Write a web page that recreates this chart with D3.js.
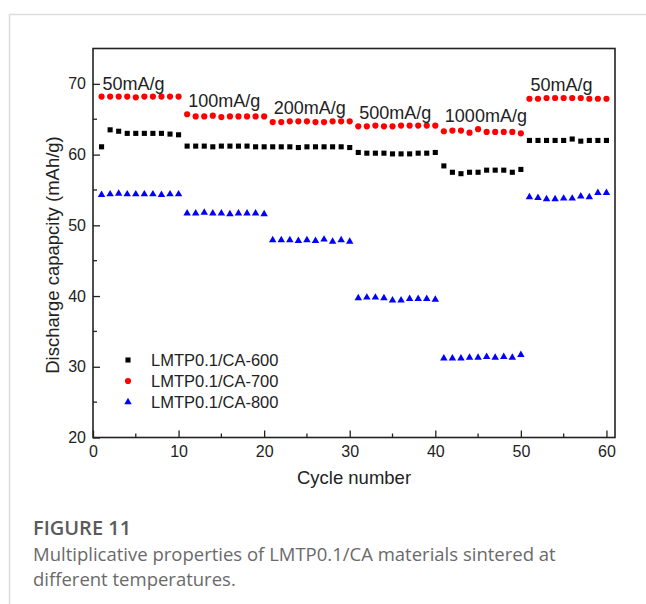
<!DOCTYPE html>
<html>
<head>
<meta charset="utf-8">
<script src="https://cdn.jsdelivr.net/npm/d3@7"></script>
<style>
  body { margin: 0; background: #fff; }
  svg { display: block; }
</style>
</head>
<body>
<svg id="chart" width="646" height="604"></svg>
<script>
// cycles 1..60
const cycles = d3.range(1, 61);

const ca600 = [
    61.1, 63.5, 63.3, 63.0, 63.0, 63.0, 63.0, 63.0, 62.9, 62.8,
    61.2, 61.2, 61.2, 61.1, 61.2, 61.2, 61.2, 61.2, 61.1, 61.1,
    61.1, 61.1, 61.1, 61.0, 61.1, 61.1, 61.1, 61.1, 61.1, 61.0,
    60.3, 60.2, 60.2, 60.2, 60.1, 60.1, 60.1, 60.2, 60.2, 60.3,
    58.4, 57.5, 57.3, 57.5, 57.5, 57.8, 57.8, 57.8, 57.5, 57.9,
    62.0, 62.0, 62.0, 62.0, 62.0, 62.2, 61.9, 62.0, 62.0, 62.0
];
const ca700 = [
    68.2, 68.2, 68.2, 68.2, 68.1, 68.2, 68.2, 68.2, 68.2, 68.2,
    65.7, 65.4, 65.4, 65.5, 65.3, 65.4, 65.4, 65.4, 65.4, 65.4,
    64.6, 64.6, 64.7, 64.7, 64.7, 64.6, 64.6, 64.7, 64.7, 64.7,
    64.0, 64.0, 64.1, 64.0, 64.0, 64.1, 64.1, 64.1, 64.1, 64.1,
    63.3, 63.4, 63.4, 63.1, 63.6, 63.2, 63.2, 63.2, 63.2, 63.0,
    67.9, 67.9, 68.0, 68.0, 68.0, 68.0, 68.0, 67.9, 67.9, 67.9
];
const ca800 = [
    54.3, 54.4, 54.5, 54.4, 54.4, 54.4, 54.4, 54.3, 54.4, 54.4,
    51.7, 51.7, 51.8, 51.7, 51.7, 51.6, 51.7, 51.7, 51.7, 51.6,
    47.9, 47.9, 47.9, 47.8, 47.9, 47.8, 48.0, 47.7, 47.9, 47.7,
    39.7, 39.8, 39.8, 39.7, 39.4, 39.4, 39.6, 39.6, 39.6, 39.5,
    31.2, 31.2, 31.2, 31.3, 31.3, 31.4, 31.3, 31.4, 31.3, 31.7,
    54.0, 53.9, 53.7, 53.7, 53.8, 53.8, 54.1, 54.0, 54.6, 54.6
];

const seriesNames = ['LMTP0.1/CA-600', 'LMTP0.1/CA-700', 'LMTP0.1/CA-800'];
const rateLabels = ['50mA/g', '100mA/g', '200mA/g', '500mA/g', '1000mA/g', '50mA/g'];
const xTicks = [0, 10, 20, 30, 40, 50, 60];
const yTicks = [20, 30, 40, 50, 60, 70];

const svg = d3.select('#chart');
const font = '"Liberation Sans", Arial, sans-serif';

// card border
svg.append('line').attr('x1', 9.5).attr('x2', 646).attr('y1', 14.5).attr('y2', 14.5)
    .attr('stroke', '#dcdcdc').attr('stroke-width', 1.5);
svg.append('line').attr('x1', 9.5).attr('x2', 9.5).attr('y1', 14).attr('y2', 604)
    .attr('stroke', '#dcdcdc').attr('stroke-width', 1.5);

const plotL = 93, plotR = 615, plotT = 48.5, plotB = 437.5;

const x = d3.scaleLinear().domain([0, 61]).range([plotL, plotR]);
const y = d3.scaleLinear().domain([20, 75]).range([plotB, plotT]);

// axes, ticks pointing inward
const xAxis = svg.append('g')
    .attr('transform', `translate(0,${plotB})`)
    .call(d3.axisBottom(x).tickValues(xTicks).tickSizeInner(-7).tickSizeOuter(0).tickPadding(8));
const yAxis = svg.append('g')
    .attr('transform', `translate(${plotL},0)`)
    .call(d3.axisLeft(y).tickValues(yTicks).tickSizeInner(-7).tickSizeOuter(0).tickPadding(7));

[xAxis, yAxis].forEach(a => {
    a.select('.domain').remove();
    a.selectAll('line').attr('stroke', '#222').attr('stroke-width', 1.3);
    a.selectAll('text').attr('font-family', font).attr('font-size', 16).attr('fill', '#222');
});

// minor ticks
svg.append('g').selectAll('line').data([5, 15, 25, 35, 45, 55]).join('line')
    .attr('x1', d => x(d)).attr('x2', d => x(d))
    .attr('y1', plotB).attr('y2', plotB - 4)
    .attr('stroke', '#222').attr('stroke-width', 1.3);
svg.append('g').selectAll('line').data([25, 35, 45, 55, 65]).join('line')
    .attr('x1', plotL).attr('x2', plotL + 4)
    .attr('y1', d => y(d)).attr('y2', d => y(d))
    .attr('stroke', '#222').attr('stroke-width', 1.3);

// frame
svg.append('rect')
    .attr('x', plotL).attr('y', plotT)
    .attr('width', plotR - plotL).attr('height', plotB - plotT)
    .attr('fill', 'none').attr('stroke', '#222').attr('stroke-width', 1.6);

// axis titles
svg.append('text')
    .attr('x', (plotL + plotR) / 2).attr('y', 484)
    .attr('text-anchor', 'middle')
    .attr('font-family', font).attr('font-size', 18.5).attr('fill', '#222')
    .text('Cycle number');
svg.append('text')
    .attr('transform', `translate(59,${(plotT + plotB) / 2 + 12}) rotate(-90)`)
    .attr('text-anchor', 'middle')
    .attr('font-family', font).attr('font-size', 18.5).attr('fill', '#222')
    .text('Discharge capapcity (mAh/g)');

// markers
const square = d3.symbol().type(d3.symbolSquare).size(26);
const circle = d3.symbol().type(d3.symbolCircle).size(30);
const triangle = d3.symbol().type(d3.symbolTriangle).size(24);

const series = [
    { name: seriesNames[0], values: ca600, sym: square, color: '#000' },
    { name: seriesNames[1], values: ca700, sym: circle, color: '#f00' },
    { name: seriesNames[2], values: ca800, sym: triangle, color: '#00f' }
];

series.forEach(s => {
    svg.append('g').selectAll('path').data(s.values).join('path')
        .attr('d', s.sym)
        .attr('transform', (d, i) => `translate(${x(cycles[i])},${y(d)})`)
        .attr('fill', s.color);
});

// rate labels above each block of the 700 series
rateLabels.forEach((t, i) => {
    const block = ca700.slice(i * 10, i * 10 + 10);
    svg.append('text')
        .attr('x', x(i * 10 + 1) + 1)
        .attr('y', y(d3.max(block)) - 7)
        .attr('font-family', font).attr('font-size', 18).attr('fill', '#222')
        .text(t);
});

// legend
const legend = svg.append('g');
series.forEach((s, i) => {
    const ly = 360 + i * 21;
    legend.append('path').attr('d', s.sym).attr('fill', s.color)
        .attr('transform', `translate(128,${ly})`);
    legend.append('text')
        .attr('x', 151).attr('y', ly).attr('dy', '0.35em')
        .attr('font-family', font).attr('font-size', 16.5).attr('fill', '#222')
        .text(s.name);
});

// caption
const cap = '"Open Sans", "Noto Sans", sans-serif';
svg.append('text').attr('x', 33).attr('y', 535)
    .attr('font-family', cap).attr('font-size', 20).attr('font-weight', 600).attr('fill', '#5a5a5a')
    .text('FIGURE 11');
svg.append('text').attr('x', 33).attr('y', 561)
    .attr('font-family', cap).attr('font-size', 18.5).attr('fill', '#6a6a6a')
    .text('Multiplicative properties of LMTP0.1/CA materials sintered at');
svg.append('text').attr('x', 33).attr('y', 586)
    .attr('font-family', cap).attr('font-size', 18.5).attr('fill', '#6a6a6a')
    .text('different temperatures.');
</script>
</body>
</html>
